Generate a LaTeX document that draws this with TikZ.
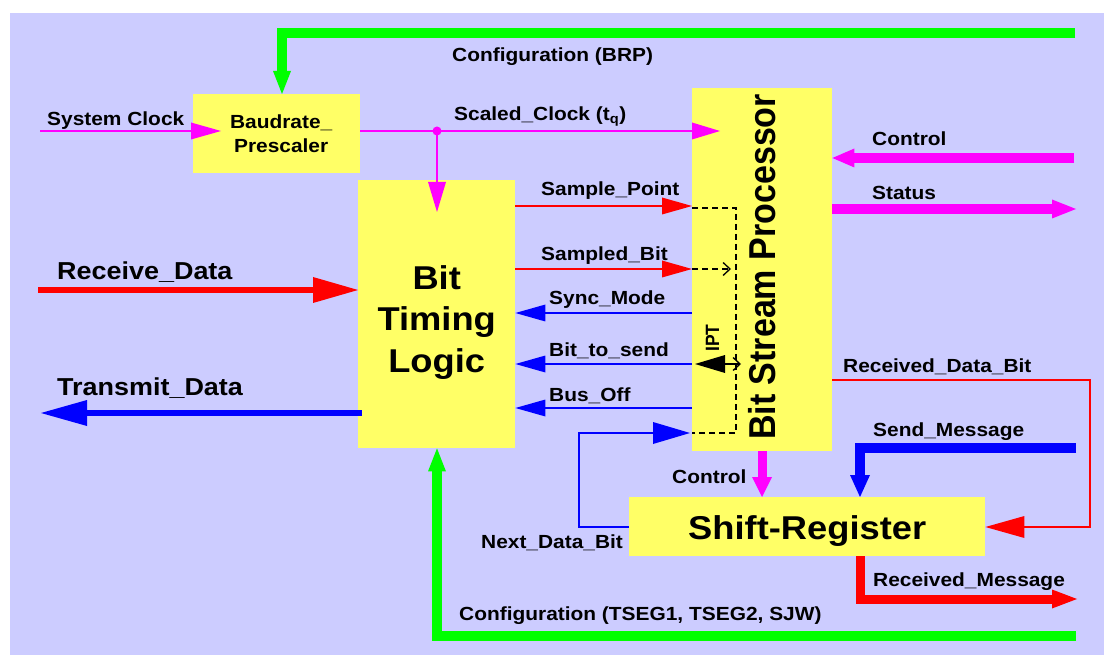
\documentclass[tikz,border=0pt]{standalone}
\usepackage{fontspec}
\usepackage{graphicx}
\usetikzlibrary{arrows.meta,calc}
\newfontfamily\labfont{Liberation Sans}[FakeStretch=1.1]
\newfontfamily\rotfont{Liberation Sans}
\definecolor{bgc}{HTML}{CCCCFF}
\definecolor{boxc}{HTML}{FFFF66}
\definecolor{mag}{HTML}{FF00FF}
\definecolor{grn}{HTML}{00FF00}
\definecolor{rd}{HTML}{FF0000}
\definecolor{bl}{HTML}{0000FF}
\begin{document}
\begin{tikzpicture}[x=1pt,y=-1pt,
  box/.style={fill=boxc, draw=none, inner sep=0pt, anchor=north west, align=center},
  lbl/.style={font=\labfont\bfseries\fontsize{19}{22}\selectfont, anchor=base west, inner sep=0pt},
  lblbig/.style={font=\labfont\bfseries\fontsize{24.5}{28}\selectfont, anchor=base west, inner sep=0pt},
  thinline/.style={line width=1.6pt},
  dashline/.style={black, line width=1.3pt, dash pattern=on 6pt off 4pt}
]
\useasboundingbox (0,0) rectangle (1104,655);
\fill[bgc] (10,13) rectangle (1104,655);

% boxes
\node[box, minimum width=167pt, minimum height=79pt, font=\labfont\bfseries\fontsize{19}{24}\selectfont] (bp) at (193,94) {\hspace*{9pt}Baudrate\_\\\hspace*{9pt}Prescaler};
\node[box, minimum width=157pt, minimum height=268pt, font=\labfont\bfseries\fontsize{33}{41.5}\selectfont, text height=123pt, text depth=7pt] (btl) at (358,180) {Bit\\Timing\\Logic};
\node[box, minimum width=140pt, minimum height=363pt] (bsp) at (692,88) {};
\node[box, minimum width=356pt, minimum height=59pt, font=\labfont\bfseries\fontsize{33}{40}\selectfont, text height=32pt, text depth=7pt] (sr) at (629,497) {Shift-Register};
\node[rotate=90, anchor=base west, inner sep=0pt, font=\rotfont\bfseries\fontsize{34}{40}\selectfont] (bsptxt) at (775,440) {\scalebox{1}[1.1]{Bit Stream Processor}};

% free ends
\coordinate (gtopR) at (1075,33);
\coordinate (sysclk) at (40,131);
\coordinate (rxL) at (38,290);
\coordinate (txL) at (41,413);
\coordinate (ctlR) at (1074,158);
\coordinate (stR) at (1076,209);
\coordinate (smR) at (1076,448);
\coordinate (rmR) at (1077,599);
\coordinate (gbR) at (1076,636);

% green configuration BRP
\draw[grn, line width=10pt, -{Triangle[length=23pt,width=18pt,line width=0pt]}] (gtopR) -| (bp.north -| 282,0);

% clocks
\draw[mag, thinline, -{Triangle[length=30pt,width=17pt,line width=0pt]}] (sysclk) -- ($(bp.west |- sysclk)+(28,0)$);
\node[circle, fill=mag, inner sep=0pt, minimum size=9pt] (dot) at (437,131) {};
\draw[mag, thinline, -{Triangle[length=28pt,width=17pt,line width=0pt]}] (bp.east |- sysclk) -- ($(bsp.west |- sysclk)+(28,0)$);
\draw[mag, thinline, -{Triangle[length=30pt,width=18pt,line width=0pt]}] (dot.center) -- ($(btl.north -| dot)+(0,32)$);

% between BTL and BSP
\draw[rd, thinline, -{Triangle[length=30pt,width=17pt,line width=0pt]}] (btl.east |- 0,206) -- (bsp.west |- 0,206);
\draw[rd, thinline, -{Triangle[length=30pt,width=17pt,line width=0pt]}] (btl.east |- 0,269) -- (bsp.west |- 0,269);
\draw[bl, thinline, -{Triangle[length=30pt,width=17pt,line width=0pt]}] (bsp.west |- 0,313) -- (btl.east |- 0,313);
\draw[bl, thinline, -{Triangle[length=30pt,width=17pt,line width=0pt]}] (bsp.west |- 0,364) -- (btl.east |- 0,364);
\draw[bl, thinline, -{Triangle[length=30pt,width=17pt,line width=0pt]}] (bsp.west |- 0,408) -- (btl.east |- 0,408);
\draw[bl, thinline, -{Triangle[length=37pt,width=22pt,line width=0pt]}] (sr.west |- 0,527) -| (579,433) -- ($(bsp.west |- 0,433)+(-2,0)$);

% receive / transmit
\draw[rd, line width=5.5pt, -{Triangle[length=45pt,width=26pt,line width=0pt]}] (rxL) -- (btl.west |- rxL);
\draw[bl, line width=5.5pt, -{Triangle[length=46pt,width=26pt,line width=0pt]}] ($(btl.west |- txL)+(4,0)$) -- (txL);

% control / status
\draw[mag, line width=10pt, -{Triangle[length=22pt,width=19pt,line width=0pt]}] (ctlR) -- (bsp.east |- ctlR);
\draw[mag, line width=10pt, -{Triangle[length=24pt,width=19pt,line width=0pt]}] (bsp.east |- stR) -- (stR);

% received data bit
\draw[rd, line width=2pt, -{Triangle[length=39pt,width=22pt,line width=0pt]}] (bsp.east |- 0,380) -| (1090,527) -- (sr.east |- 0,527);

% send message
\draw[bl, line width=10pt, -{Triangle[length=22pt,width=20pt,line width=0pt]}] (smR) -| (sr.north -| 860,0);

% control to shift register
\draw[mag, line width=9pt, -{Triangle[length=20pt,width=20pt,line width=0pt]}] (bsp.south -| 762,0) -- (sr.north -| 762,0);

% received message
\draw[rd, line width=9pt, -{Triangle[length=25pt,width=19pt,line width=0pt]}] (sr.south -| 860,0) |- (rmR);

% green configuration bottom
\draw[grn, line width=10pt, -{Triangle[length=23pt,width=18pt,line width=0pt]}] (gbR) -| (btl.south -| 437,0);

% dashed internals
\draw[dashline] (bsp.west |- 0,208) -| (736,433) -- (bsp.west |- 0,433);
\draw[dashline, -{Straight Barb[length=7pt,width=13pt]}] (bsp.west |- 0,269) -- (731,269);
\draw[black, line width=1.3pt, {Triangle[length=30pt,width=18pt,line width=0pt]}-{Straight Barb[length=7pt,width=13pt]}] ($(bsp.west |- 0,364)+(3,0)$) -- (741,364);
\node[rotate=90, anchor=base west, inner sep=0pt, font=\rotfont\bfseries\fontsize{17.5}{20}\selectfont] (ipt) at (719,352) {\scalebox{1}[1.1]{IPT}};

% labels
\node[lbl] (lsys) at (47,126) {System Clock};
\node[lbl] (lbrp) at (452,62) {Configuration (BRP)};
\node[lbl] (lscl) at (454,121) {Scaled\_Clock (t\textsubscript{q})};
\node[lbl] (lsp) at (541,196) {Sample\_Point};
\node[lbl] (lsb) at (541,261) {Sampled\_Bit};
\node[lbl] (lsm) at (549,305) {Sync\_Mode};
\node[lbl] (lbts) at (549,356) {Bit\_to\_send};
\node[lbl] (lbo) at (549,401) {Bus\_Off};
\node[lbl] (lctl) at (872,146) {Control};
\node[lbl] (lst) at (872,200) {Status};
\node[lbl] (lrdb) at (843,372) {Received\_Data\_Bit};
\node[lbl] (lsmg) at (873,436) {Send\_Message};
\node[lbl] (lctl2) at (672,483) {Control};
\node[lbl] (lndb) at (481,548) {Next\_Data\_Bit};
\node[lbl] (lrm) at (873,586) {Received\_Message};
\node[lbl] (lcfg) at (459,620) {Configuration (TSEG1, TSEG2, SJW)};
\node[lblbig] (lrx) at (57,280) {Receive\_Data};
\node[lblbig] (ltx) at (57,395) {Transmit\_Data};
\end{tikzpicture}
\end{document}
